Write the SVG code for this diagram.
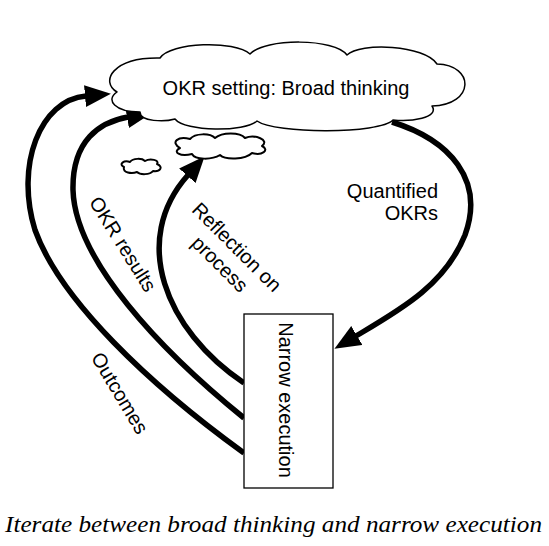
<svg xmlns="http://www.w3.org/2000/svg" width="549" height="546" viewBox="0 0 549 546">
<style>
.lbl{font-family:"Liberation Sans",Arial,Helvetica,sans-serif;font-size:20px;fill:#000}
.cloud{fill:#fff;stroke:#000;stroke-width:1.5;stroke-linejoin:round}
.scloud{fill:#fff;stroke:#000;stroke-width:2;stroke-linejoin:round}
.arr{fill:none;stroke:#000;stroke-width:5.5;stroke-linecap:butt;marker-end:url(#ah)}
.cap{font-family:"Liberation Serif","Times New Roman",serif;font-style:italic;font-size:24px;fill:#000}
</style>
<defs>
<marker id="ah" markerUnits="userSpaceOnUse" markerWidth="26" markerHeight="22" refX="1" refY="11" orient="auto" viewBox="0 0 26 22"><path d="M0,0 L26,11 L0,22 z" fill="#000"/></marker>
</defs>
<rect width="549" height="546" fill="#fff"/>
<g id="connectors">
<path class="arr" d="M244,453 C150,385 60,300 35,230 C15,165 40,100 86,96"/>
<path class="arr" d="M244,418 C160,350 75,260 73,190 C72,140 100,122 128,117"/>
<path class="arr" d="M244,383 C165,330 130,240 188,175"/>
<path class="arr" d="M392,122 C450,140 485,180 465,235 C445,285 400,310 356,336"/>
</g>
<g id="okr-setting">
<path class="cloud" d="M117,92 C100,82 112,57 160,58 C170,42 235,40 250,54 C265,38 335,38 347,55 C360,42 425,45 437,64 C475,65 475,105 432,106 C440,118 410,122 393,120 C380,134 275,134 257,121 C245,132 185,132 175,119 C165,122 140,122 140,112 C115,112 105,100 117,92 Z"/>
<text class="lbl" x="286" y="95" text-anchor="middle">OKR setting: Broad thinking</text>
</g>
<g id="small-cloud-1">
<path class="scloud" d="M180,148 C170,142 178,136 190,139 C195,133 210,133 215,138 C222,132 240,132 245,138 C255,134 270,140 262,146 C270,150 262,156 252,153 C245,160 225,160 220,155 C212,160 195,160 192,154 C180,157 172,152 180,148 Z"/>
</g>
<g id="small-cloud-2">
<path class="scloud" d="M124,167 C118,164 124,160 130,162 C133,158 142,158 145,161 C150,158 160,160 157,164 C164,167 160,172 153,171 C150,175 140,175 137,172 C132,174 122,173 124,167 Z"/>
</g>
<g id="narrow-execution">
<rect x="244" y="314" width="89" height="174" fill="#fff" stroke="#000" stroke-width="1.3"/>
<text class="lbl" transform="translate(279,400) rotate(90)" text-anchor="middle">Narrow execution</text>
</g>
<g id="labels">
<text class="lbl" text-anchor="end"><tspan x="438" y="198">Quantified</tspan><tspan x="438" y="220">OKRs</tspan></text>
<text class="lbl" transform="translate(123,244) rotate(58)" text-anchor="middle" y="7">OKR results</text>
<text class="lbl" transform="translate(237,247) rotate(45)" text-anchor="middle"><tspan x="0" y="7">Reflection on</tspan><tspan x="0" y="31">process</tspan></text>
<text class="lbl" transform="translate(120,393) rotate(59)" text-anchor="middle" y="7">Outcomes</text>
</g>
<text class="cap" x="5" y="532" textLength="537" lengthAdjust="spacingAndGlyphs">Iterate between broad thinking and narrow execution</text>
</svg>
